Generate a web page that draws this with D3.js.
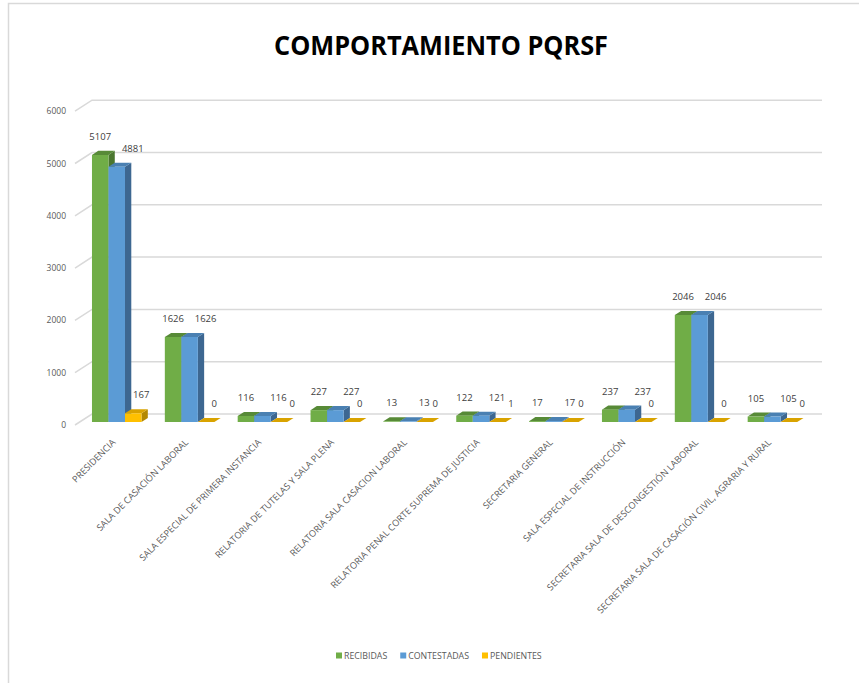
<!DOCTYPE html>
<html>
<head>
<meta charset="utf-8">
<script src="https://cdn.jsdelivr.net/npm/d3@7"></script>
<style>
  body { margin: 0; background: #fff; }
  text { font-family: "Open Sans", sans-serif; }
</style>
</head>
<body>
<div id="canvas"></div>
<script>
// data
var categories = [
  'PRESIDENCIA',
  'SALA DE CASACIÓN LABORAL',
  'SALA ESPECIAL DE PRIMERA INSTANCIA',
  'RELATORIA DE TUTELAS Y SALA PLENA',
  'RELATORIA SALA CASACION LABORAL',
  'RELATORIA PENAL CORTE SUPREMA DE JUSTICIA',
  'SECRETARIA GENERAL',
  'SALA ESPECIAL DE INSTRUCCIÓN',
  'SECRETARIA SALA DE DESCONGESTIÓN LABORAL',
  'SECRETARIA SALA DE CASACIÓN CIVIL, AGRARIA Y RURAL'
];
var recibidas   = [5107, 1626, 116, 227, 13, 122, 17, 237, 2046, 105];
var contestadas = [4881, 1626, 116, 227, 13, 121, 17, 237, 2046, 105];
var pendientes  = [167, 0, 0, 0, 0, 1, 0, 0, 0, 0];
var seriesNames = ['RECIBIDAS', 'CONTESTADAS', 'PENDIENTES'];
var yTicks = [0, 1000, 2000, 3000, 4000, 5000, 6000];

var W = 859, H = 683;

// colours: front, top, side
var pal = [
  {front:'#70ad47', top:'#578a37', side:'#4a762f'},
  {front:'#5b9bd5', top:'#4a80b2', side:'#3d6791'},
  {front:'#ffc000', top:'#d9a300', side:'#b38700'}
];
var labelDx = [0, 16, 8];

var svg = d3.select('#canvas').append('svg')
    .attr('width', W).attr('height', H);

svg.append('rect').attr('x', 8.5).attr('y', 3.5)
    .attr('width', W + 20).attr('height', H + 20)
    .attr('fill', '#fff').attr('stroke', '#d9d9d9').attr('stroke-width', 1.5);

// 3D-ish projection: front plane x/y, depth z in [0,1] pushes up-right
var depth = {dx: 17, dy: -11};
var x0 = d3.scaleBand().domain(categories).range([75, 805])
    .paddingInner(0.32).paddingOuter(0.17);
var x1 = d3.scaleBand().domain(seriesNames).range([0, x0.bandwidth()]);
var y = d3.scaleLinear().domain([0, 6000]).range([425, 425 - 6000 * 0.0523]);

function P(x, v, z) { return [x + depth.dx * z, y(v) + depth.dy * z]; }

// gridlines on back wall + diagonal on side wall
var grid = svg.append('g').attr('class', 'grid');
yTicks.forEach(function(t){
  var a = P(75, t, 0), b = P(75, t, 1), c = P(805, t, 1);
  grid.append('path')
    .attr('d', 'M' + a + 'L' + b + 'L' + c)
    .attr('fill', 'none').attr('stroke', '#d9d9d9').attr('stroke-width', 1.5);
  svg.append('text')
    .attr('x', 66).attr('y', y(t) + 3)
    .attr('text-anchor', 'end')
    .attr('font-size', 8.5).attr('fill', '#595959')
    .text(t);
});

// bars
var zF = 0.27, zB = 0.64;
var series = [recibidas, contestadas, pendientes];
var bars = svg.append('g').attr('class', 'bars');
var labels = svg.append('g').attr('class', 'labels');

categories.forEach(function(cat, i){
  var placed = []; // label boxes in this group, to nudge overlaps right
  series.forEach(function(vals, s){
    var v = vals[i];
    var xl = x0(cat) + x1(seriesNames[s]);
    var xr = xl + x1.bandwidth();
    var fbl = P(xl, 0, zF), ftl = P(xl, v, zF), ftr = P(xr, v, zF), fbr = P(xr, 0, zF);
    var btl = P(xl, v, zB), btr = P(xr, v, zB), bbr = P(xr, 0, zB);
    var g = bars.append('g');
    g.append('path') // side
      .attr('d', 'M' + fbr + 'L' + ftr + 'L' + btr + 'L' + bbr + 'Z')
      .attr('fill', pal[s].side);
    g.append('path') // top
      .attr('d', 'M' + ftl + 'L' + btl + 'L' + btr + 'L' + ftr + 'Z')
      .attr('fill', pal[s].top);
    g.append('path') // front
      .attr('d', 'M' + fbl + 'L' + ftl + 'L' + ftr + 'L' + fbr + 'Z')
      .attr('fill', pal[s].front);

    var lbl = labels.append('text')
      .attr('x', (ftl[0] + ftr[0]) / 2 + labelDx[s])
      .attr('y', ftl[1] - 15)
      .attr('text-anchor', 'middle')
      .attr('font-size', 9.5).attr('fill', '#404040')
      .text(v);
    var bb = lbl.node().getBBox();
    placed.forEach(function(p){
      var yOver = bb.y < p.y + p.height - 3 && p.y < bb.y + bb.height - 3;
      if (yOver && bb.x < p.x + p.width + 3) {
        var shift = p.x + p.width + 3 - bb.x;
        lbl.attr('x', +lbl.attr('x') + shift);
        bb.x += shift;
      }
    });
    placed.push(bb);
  });
});

// category labels, rotated
svg.append('g').selectAll('text')
  .data(categories).enter().append('text')
  .attr('transform', function(d){
    return 'translate(' + (x0(d) + x0.bandwidth() / 2 + 4) + ',443) rotate(-45)';
  })
  .attr('text-anchor', 'end')
  .attr('font-size', 9.2).attr('fill', '#595959')
  .text(function(d){ return d; });

// title
svg.append('text')
  .attr('x', 441).attr('y', 55)
  .attr('text-anchor', 'middle')
  .attr('font-size', 27).attr('font-weight', 700).attr('fill', '#000')
  .attr('textLength', 334).attr('lengthAdjust', 'spacingAndGlyphs')
  .text('COMPORTAMIENTO PQRSF');

// legend
var leg = svg.append('g').attr('class', 'legend');
var lx = 336;
seriesNames.forEach(function(n, s){
  leg.append('rect').attr('x', lx).attr('y', 652.5)
    .attr('width', 6).attr('height', 6).attr('fill', pal[s].front);
  var t = leg.append('text').attr('x', lx + 8).attr('y', 659)
    .attr('font-size', 8.8).attr('fill', '#595959').text(n);
  lx += 8 + t.node().getComputedTextLength() + 13;
});
</script>
</body>
</html>
